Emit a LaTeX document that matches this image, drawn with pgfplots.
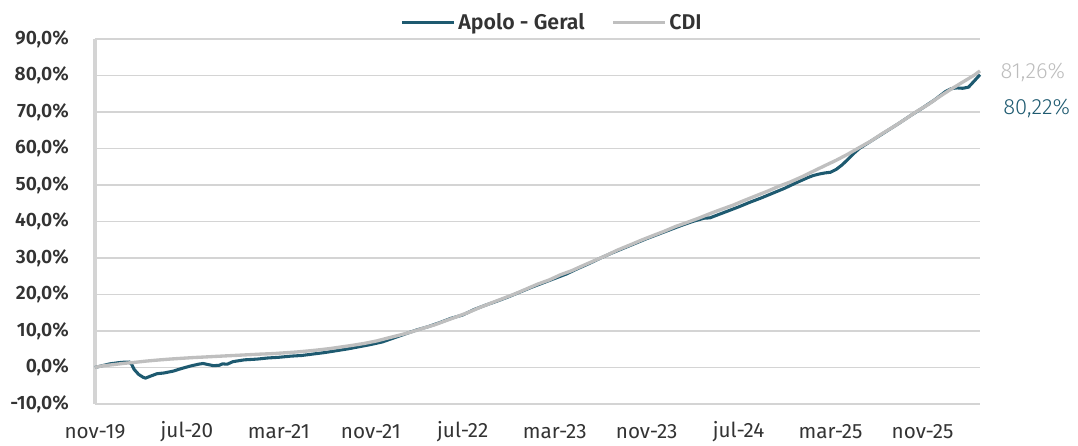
\documentclass[border=0pt]{standalone}
\usepackage{fontspec}
\setmainfont{Fira Sans}[BoldFont={Fira Sans SemiBold}]
\newfontfamily\lightfont{Fira Sans Light}
\usepackage{pgfplots}
\pgfplotsset{compat=1.18}
\definecolor{apolo}{HTML}{1E5A70}
\definecolor{cdi}{HTML}{BFBFBF}
\definecolor{gridc}{HTML}{D4D4D4}
\definecolor{txt}{HTML}{333333}
\definecolor{lbl}{HTML}{BDBDBD}

\pgfplotstableread{
x y
0 0
0.5 0.4
1.3 1.0
2.0 1.3
2.5 1.45
3.0 1.5
3.2 0.8
3.4 -0.5
3.8 -1.9
4.2 -2.7
4.4 -2.9
4.8 -2.4
5.4 -1.7
6.0 -1.5
6.8 -1.0
7.5 -0.3
8.3 0.4
9.0 0.9
9.4 1.1
10.0 0.7
10.3 0.5
10.8 0.6
11.1 1.0
11.5 0.9
12.0 1.6
13.0 2.1
14.1 2.3
15.0 2.6
16.0 2.8
17.0 3.1
18.0 3.3
19.0 3.7
20.0 4.1
21.0 4.6
22.0 5.1
23.0 5.7
24.0 6.3
25.0 7.0
26.0 8.1
27.0 9.2
28.0 10.3
29.0 11.2
30.0 12.3
31.0 13.5
32.0 14.4
33.0 15.9
34.0 17.1
35.0 18.2
36.0 19.4
37.0 20.7
38.0 22.0
39.0 23.2
40.0 24.4
41.0 25.6
42.0 27.1
43.0 28.5
44.0 30.0
45.0 31.4
46.0 32.7
47.0 34.0
48.0 35.3
49.0 36.5
50.0 37.7
51.0 38.9
52.0 40.0
53.0 40.9
53.5 41.0
54.0 41.6
55.0 42.8
56.0 44.0
57.0 45.3
58.0 46.5
59.0 47.8
60.0 49.1
61.0 50.6
62.0 52.0
62.5 52.6
63.0 53.0
63.5 53.3
64.0 53.5
64.5 54.3
65.0 55.5
65.5 57.0
66.0 58.6
66.5 60.0
67.0 61.0
68.0 63.0
69.0 65.0
70.0 67.0
71.0 69.1
72.0 71.1
73.0 73.2
73.5 74.4
74.0 75.6
74.5 76.4
75.0 76.6
75.5 76.5
76.0 76.8
76.5 78.5
77.0 80.22
}\apolodata

\pgfplotstableread{
x y
0 0
0.5 0.38
1.5 0.75
2.5 1.13
3.5 1.42
4.5 1.77
5.5 2.05
6.5 2.30
7.5 2.51
8.5 2.71
9.5 2.87
10.5 3.04
11.5 3.20
12.5 3.36
13.5 3.52
14.5 3.68
15.5 3.81
16.5 4.02
17.5 4.24
18.5 4.52
19.5 4.84
20.5 5.21
21.5 5.66
22.5 6.12
23.5 6.64
24.5 7.27
25.5 8.09
26.5 8.88
27.5 9.70
28.5 10.72
29.5 11.64
30.5 12.79
31.5 13.94
32.5 15.11
33.5 16.46
34.5 17.71
35.5 18.91
36.5 20.12
37.5 21.47
38.5 22.83
39.5 23.96
40.5 25.41
41.5 26.56
42.5 27.98
43.5 29.35
44.5 30.73
45.5 32.22
46.5 33.51
47.5 34.84
48.5 36.08
49.5 37.29
50.5 38.62
51.5 39.73
52.5 40.89
53.5 42.15
54.5 43.33
55.5 44.46
56.5 45.78
57.5 47.04
58.5 48.28
59.5 49.66
60.5 50.84
61.5 52.24
62.5 53.78
63.5 55.30
64.5 56.79
65.5 58.45
66.5 60.26
67.5 62.02
68.5 64.10
69.5 66.00
70.5 68.03
71.5 70.18
72.5 72.05
73.5 74.25
74.5 76.30
75.5 78.20
76.5 80.10
77.0 81.26
}\cdidata

\begin{document}
\begin{tikzpicture}
\path[use as bounding box] (-71.25pt,-31.5pt) rectangle (737.25pt,303pt);
\begin{axis}[
  at={(0pt,0pt)}, anchor=south west,
  scale only axis, width=663.75pt, height=273.75pt,
  xmin=0, xmax=77, ymin=-10, ymax=90,
  axis lines=left,
  x axis line style={-, gridc, line width=1.6pt},
  y axis line style={-, gridc, line width=2.4pt},
  ytick={-10,0,10,...,90},
  xtick={0,8,...,72},
  xticklabels={nov-19,jul-20,mar-21,nov-21,jul-22,mar-23,nov-23,jul-24,mar-25,nov-25},
  tick style={draw=none},
  ymajorgrids, grid style={gridc, line width=1.1pt},
  /pgf/number format/assume math mode=true,
  yticklabel={\pgfmathprintnumber[fixed,fixed zerofill,precision=1,use comma]{\tick}\%},
  yticklabel style={font=\fontsize{14.5}{16}\selectfont\bfseries, text=txt, anchor=east, xshift=-14pt},
  xticklabel style={font=\fontsize{15.5}{17}\selectfont, text=txt, anchor=center, yshift=-18.5pt},
  legend style={at={(0.517,1.045)}, anchor=center, draw=none, fill=none,
    legend columns=2, font=\fontsize{16}{18}\selectfont\bfseries, text=txt,
    /tikz/every even column/.append style={column sep=18pt}},
  legend image code/.code={\draw[#1] (0pt,0pt) -- (39pt,0pt);},
  clip=false,
]
\addplot[apolo, line width=2.3pt, line join=round] table[x=x,y=y] {\apolodata};
\addlegendentry{Apolo - Geral}
\addplot[cdi, line width=2.5pt, line join=round] table[x=x,y=y] {\cdidata};
\addlegendentry{CDI}
\node[anchor=west, text=lbl, font=\fontsize{16.5}{18}\selectfont\lightfont, xshift=12pt] at (axis cs:77,80.96) {81,26\%};
\node[anchor=west, text=apolo, font=\fontsize{16.5}{18}\selectfont\lightfont, xshift=14pt] at (axis cs:77,71.1) {80,22\%};
\end{axis}
\end{tikzpicture}
\end{document}
